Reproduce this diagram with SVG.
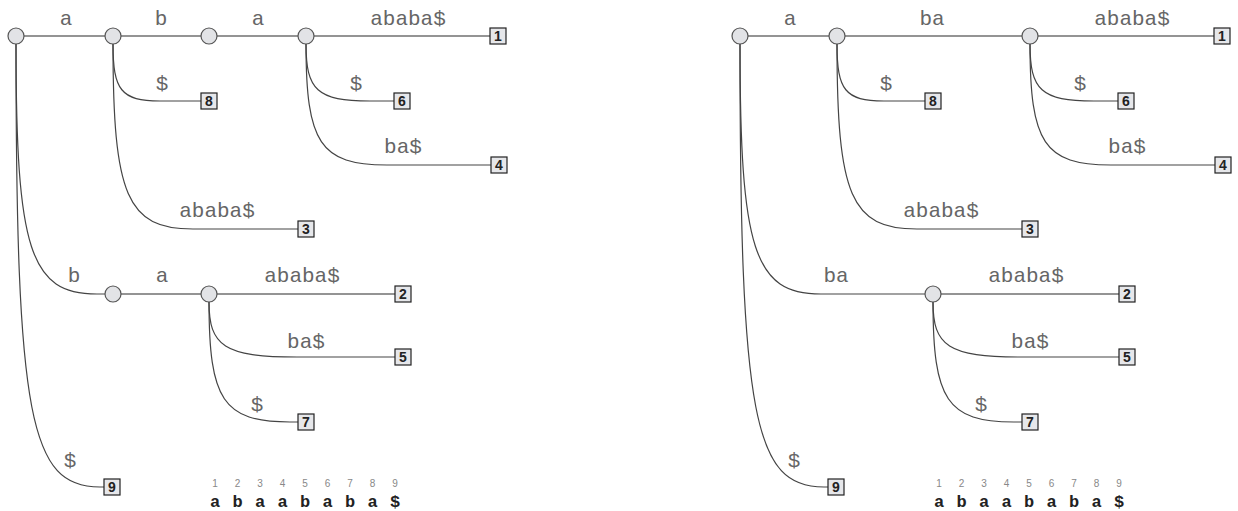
<svg xmlns="http://www.w3.org/2000/svg" width="1238" height="511" viewBox="0 0 1238 511">
<style>
.e{fill:none;stroke:#2a2a2a;stroke-width:1.2}
.c{fill:none;stroke:#444;stroke-width:1.2}
.n{fill:#e2e3e6;stroke:#555;stroke-width:1.2}
.b{fill:#e6e7ea;stroke:#222;stroke-width:1.2}
.bt{font-family:'Liberation Sans',Arial,sans-serif;font-weight:bold;font-size:14px;fill:#222;text-anchor:middle}
.num{font-family:'Liberation Sans',Arial,sans-serif;font-size:10px;fill:#888;text-anchor:middle}
</style>
<rect width="1238" height="511" fill="#fff"/>
<g id="connectors">
<path class="e" d="M24,36 L105,36"/>
<path class="e" d="M121,36 L201,36"/>
<path class="e" d="M217,36 L298,36"/>
<path class="e" d="M314,36 L490,36"/>
<path class="c" d="M113,44 C113,90 121,101 160,101 L201,101"/>
<path class="c" d="M113,44 C113,196 127,229 193,229 L298,229"/>
<path class="c" d="M306,44 C306,90 317,101 370,101 L394,101"/>
<path class="c" d="M306,44 C306,143 320,165 387,165 L491,165"/>
<path class="c" d="M16,44 C16,250 30,294 97,294 L105,294"/>
<path class="e" d="M121,294 L201,294"/>
<path class="e" d="M217,294 L395,294"/>
<path class="c" d="M209,302 C209,346 224,357 297,357 L395,357"/>
<path class="c" d="M209,302 C209,400 223,422 290,422 L298,422"/>
<path class="c" d="M16,44 C16,420 30,487 100,487 L104,487"/>
<path class="e" d="M748,36 L829,36"/>
<path class="e" d="M845,36 L1022,36"/>
<path class="e" d="M1038,36 L1214,36"/>
<path class="c" d="M837,44 C837,90 845,101 884,101 L925,101"/>
<path class="c" d="M837,44 C837,196 851,229 917,229 L1022,229"/>
<path class="c" d="M1030,44 C1030,90 1041,101 1094,101 L1118,101"/>
<path class="c" d="M1030,44 C1030,143 1044,165 1111,165 L1215,165"/>
<path class="c" d="M740,44 C740,250 754,294 821,294 L925,294"/>
<path class="e" d="M941,294 L1119,294"/>
<path class="c" d="M933,302 C933,346 948,357 1021,357 L1119,357"/>
<path class="c" d="M933,302 C933,400 947,422 1014,422 L1022,422"/>
<path class="c" d="M740,44 C740,420 754,487 824,487 L828,487"/>
</g>
<g id="edge-labels" font-family="Liberation Mono" font-size="21" fill="#666" text-anchor="middle">
<text x="66" y="25">a</text>
<text x="161" y="25">b</text>
<text x="258" y="25">a</text>
<text x="408" y="25">ababa$</text>
<text x="162" y="90">$</text>
<text x="356" y="90">$</text>
<text x="403" y="153">ba$</text>
<text x="217" y="217">ababa$</text>
<text x="74" y="282">b</text>
<text x="162" y="282">a</text>
<text x="302" y="282">ababa$</text>
<text x="306" y="348">ba$</text>
<text x="257" y="411">$</text>
<text x="70" y="467">$</text>
<text x="790" y="25">a</text>
<text x="932" y="25">ba</text>
<text x="1132" y="25">ababa$</text>
<text x="886" y="90">$</text>
<text x="1080" y="90">$</text>
<text x="1127" y="153">ba$</text>
<text x="941" y="217">ababa$</text>
<text x="836" y="282">ba</text>
<text x="1026" y="282">ababa$</text>
<text x="1030" y="348">ba$</text>
<text x="981" y="411">$</text>
<text x="794" y="467">$</text>
</g>
<g id="L-root"><circle class="n" cx="16" cy="36" r="8"/></g>
<g id="L-a"><circle class="n" cx="113" cy="36" r="8"/></g>
<g id="L-ab"><circle class="n" cx="209" cy="36" r="8"/></g>
<g id="L-aba"><circle class="n" cx="306" cy="36" r="8"/></g>
<g id="L-b"><circle class="n" cx="113" cy="294" r="8"/></g>
<g id="L-ba"><circle class="n" cx="209" cy="294" r="8"/></g>
<g id="L-leaf1"><rect class="b" x="490" y="28" width="16" height="16"/><text class="bt" x="498" y="41">1</text></g>
<g id="L-leaf6"><rect class="b" x="394" y="93" width="16" height="16"/><text class="bt" x="402" y="106">6</text></g>
<g id="L-leaf4"><rect class="b" x="491" y="157" width="16" height="16"/><text class="bt" x="499" y="170">4</text></g>
<g id="L-leaf8"><rect class="b" x="201" y="93" width="16" height="16"/><text class="bt" x="209" y="106">8</text></g>
<g id="L-leaf3"><rect class="b" x="298" y="221" width="16" height="16"/><text class="bt" x="306" y="234">3</text></g>
<g id="L-leaf2"><rect class="b" x="395" y="286" width="16" height="16"/><text class="bt" x="403" y="299">2</text></g>
<g id="L-leaf5"><rect class="b" x="395" y="349" width="16" height="16"/><text class="bt" x="403" y="362">5</text></g>
<g id="L-leaf7"><rect class="b" x="298" y="414" width="16" height="16"/><text class="bt" x="306" y="427">7</text></g>
<g id="L-leaf9"><rect class="b" x="104" y="479" width="16" height="16"/><text class="bt" x="112" y="492">9</text></g>
<g id="R-root"><circle class="n" cx="740" cy="36" r="8"/></g>
<g id="R-a"><circle class="n" cx="837" cy="36" r="8"/></g>
<g id="R-aba"><circle class="n" cx="1030" cy="36" r="8"/></g>
<g id="R-ba"><circle class="n" cx="933" cy="294" r="8"/></g>
<g id="R-leaf1"><rect class="b" x="1214" y="28" width="16" height="16"/><text class="bt" x="1222" y="41">1</text></g>
<g id="R-leaf6"><rect class="b" x="1118" y="93" width="16" height="16"/><text class="bt" x="1126" y="106">6</text></g>
<g id="R-leaf4"><rect class="b" x="1215" y="157" width="16" height="16"/><text class="bt" x="1223" y="170">4</text></g>
<g id="R-leaf8"><rect class="b" x="925" y="93" width="16" height="16"/><text class="bt" x="933" y="106">8</text></g>
<g id="R-leaf3"><rect class="b" x="1022" y="221" width="16" height="16"/><text class="bt" x="1030" y="234">3</text></g>
<g id="R-leaf2"><rect class="b" x="1119" y="286" width="16" height="16"/><text class="bt" x="1127" y="299">2</text></g>
<g id="R-leaf5"><rect class="b" x="1119" y="349" width="16" height="16"/><text class="bt" x="1127" y="362">5</text></g>
<g id="R-leaf7"><rect class="b" x="1022" y="414" width="16" height="16"/><text class="bt" x="1030" y="427">7</text></g>
<g id="R-leaf9"><rect class="b" x="828" y="479" width="16" height="16"/><text class="bt" x="836" y="492">9</text></g>
<g id="index-numbers">
<text class="num" x="215" y="487">1</text><text class="num" x="237.5" y="487">2</text><text class="num" x="260" y="487">3</text><text class="num" x="282.5" y="487">4</text><text class="num" x="305" y="487">5</text><text class="num" x="327.5" y="487">6</text><text class="num" x="350" y="487">7</text><text class="num" x="372.5" y="487">8</text><text class="num" x="395" y="487">9</text>
<text class="num" x="939" y="487">1</text><text class="num" x="961.5" y="487">2</text><text class="num" x="984" y="487">3</text><text class="num" x="1006.5" y="487">4</text><text class="num" x="1029" y="487">5</text><text class="num" x="1051.5" y="487">6</text><text class="num" x="1074" y="487">7</text><text class="num" x="1096.5" y="487">8</text><text class="num" x="1119" y="487">9</text>
</g>
<g id="strings" font-family="Liberation Mono" font-weight="bold" font-size="17" fill="#222" text-anchor="middle">
<text x="215" y="507">a</text><text x="237.5" y="507">b</text><text x="260" y="507">a</text><text x="282.5" y="507">a</text><text x="305" y="507">b</text><text x="327.5" y="507">a</text><text x="350" y="507">b</text><text x="372.5" y="507">a</text><text x="395" y="507">$</text>
<text x="939" y="507">a</text><text x="961.5" y="507">b</text><text x="984" y="507">a</text><text x="1006.5" y="507">a</text><text x="1029" y="507">b</text><text x="1051.5" y="507">a</text><text x="1074" y="507">b</text><text x="1096.5" y="507">a</text><text x="1119" y="507">$</text>
</g>
</svg>
